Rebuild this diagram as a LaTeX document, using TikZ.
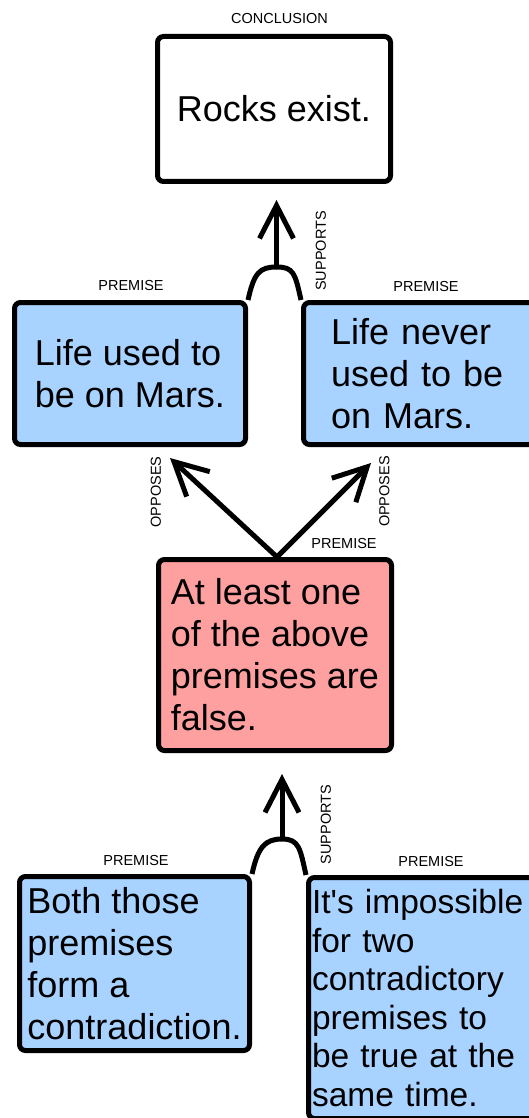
\documentclass[tikz,border=0pt]{standalone}
\usepackage{fontspec}
\setmainfont{Liberation Sans}
\usetikzlibrary{arrows.meta}
\definecolor{premblue}{RGB}{168,210,255}
\definecolor{premred}{RGB}{255,160,160}
\begin{document}
\begin{tikzpicture}[x=1pt,y=-1pt,
  box/.style={draw=black, line width=5pt, rounded corners=6pt, align=left,
    inner sep=0pt, font=\fontsize{36}{42}\selectfont},
  smallbox/.style={box, font=\fontsize{33.5}{38.5}\selectfont},
  tag/.style={font=\fontsize{14.5}{16}\selectfont, inner sep=0pt},
  link/.style={line width=5pt},
  arrowlink/.style={line width=5pt, -{Straight Barb[length=33pt,width=34pt]}}
]
\useasboundingbox (0,0) rectangle (529,1118);

% claims
\node[box, fill=white, minimum width=233pt, minimum height=145pt] (concl) at (274,109) {Rocks exist.};
\node[box, fill=premblue, minimum width=231pt, minimum height=142pt] (lp) at (130,373.5) {Life used to\\be on Mars.};
\node[box, fill=premblue, minimum height=142pt, text width=176pt, inner xsep=27.5pt] (rp) at (419,373.5) {Life never\\used to be\\on Mars.};
\node[box, fill=premred, minimum width=233pt, minimum height=191pt] (red) at (275,655) {At least one\\of the above\\premises are\\false.};
\node[box, fill=premblue, minimum width=230pt, minimum height=174pt] (bl) at (134.5,963.5) {Both those\\premises\\form a\\contradiction.};
\node[smallbox, fill=premblue, minimum height=241pt, text width=224pt, inner xsep=3.5pt] (br) at (424,998) {It\textquotesingle s impossible\\for two\\contradictory\\premises to\\be true at the\\same time.};

% captions
\node[tag] (tconcl) at (279.5,19) {CONCLUSION};
\node[tag] (tlp) at (131,286) {PREMISE};
\node[tag] (trp) at (426,287) {PREMISE};
\node[tag] (tred) at (344,544) {PREMISE};
\node[tag] (tbl) at (136,860) {PREMISE};
\node[tag] (tbr) at (431,861) {PREMISE};

% joint support of the conclusion
\coordinate (jt) at (276.5,267);
\draw[link] (lp.north east) .. controls +(6,-27) and +(-17,0) .. (jt)
  .. controls +(17,0) and +(-6,-27) .. (rp.north west);
\draw[arrowlink, shorten >=16pt] (jt) -- (jt |- concl.south);
\node[tag, rotate=90] (ltop) at (321,251) {SUPPORTS};

% objections
\coordinate (oppL) at (170,458);
\coordinate (oppR) at (371,463);
\draw[arrowlink] ([xshift=2pt]red.north) -- (oppL);
\draw[arrowlink] ([xshift=2pt]red.north) -- (oppR);
\node[tag, rotate=90] (lol) at (156,492) {OPPOSES};
\node[tag, rotate=90] (lor) at (384.5,491.5) {OPPOSES};

% joint support of the objection
\coordinate (jb) at (282,839);
\draw[link] (bl.north east) .. controls +(6,-27) and +(-17,0) .. (jb)
  .. controls +(17,0) and +(-6,-27) .. (br.north west);
\draw[arrowlink, shorten >=21pt] (jb) -- (jb |- red.south);
\node[tag, rotate=90] (lbot) at (326,824.5) {SUPPORTS};
\end{tikzpicture}
\end{document}
